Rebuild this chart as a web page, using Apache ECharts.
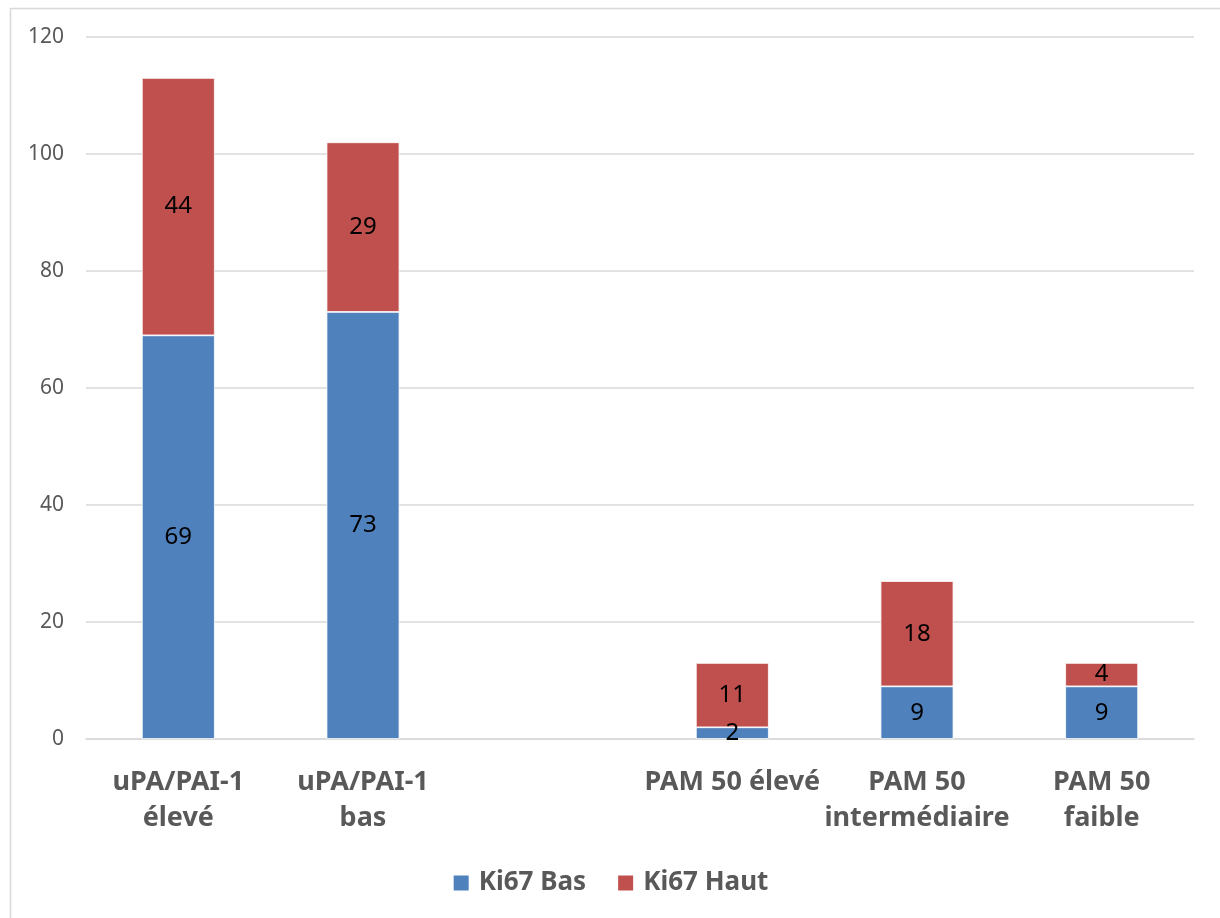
<!DOCTYPE html>
<html>
<head>
<meta charset="utf-8">
<style>
  html, body { margin: 0; padding: 0; background: #fff; }
  #chart { width: 1220px; height: 918px; }
</style>
<script src="https://cdn.jsdelivr.net/npm/echarts@6/dist/echarts.min.js"></script>
</head>
<body>
<div id="chart"></div>
<script>
// Groups (the empty slot separates the uPA/PAI-1 groups from the PAM 50 groups)
const categories = ['uPA/PAI-1\nélevé', 'uPA/PAI-1\nbas', '', 'PAM 50 élevé', 'PAM 50\nintermédiaire', 'PAM 50\nfaible'];
const ki67Bas  = [69, 73, null, 2, 9, 9];
const ki67Haut = [44, 29, null, 11, 18, 4];
const yTicks = { min: 0, max: 120, interval: 20 };

const chart = echarts.init(document.getElementById('chart'));
const font = 'Noto Sans';

const labelStyle = {
  show: true,
  position: 'inside',
  color: '#000',
  fontFamily: font,
  fontSize: 24,
  formatter: p => (p.value == null ? '' : p.value)
};

chart.setOption({
  animation: false,
  textStyle: { fontFamily: font },
  graphic: [{
    type: 'rect',
    shape: { x: 10.5, y: 8.5, width: 1240, height: 940 },
    style: { fill: 'none', stroke: '#D9D9D9', lineWidth: 1.5 },
    silent: true
  }],
  grid: { left: 86, right: 26, top: 37, bottom: 179, containLabel: false },
  legend: {
    top: 865,
    left: 'center',
    itemWidth: 17,
    itemHeight: 17,
    itemGap: 30,
    icon: 'rect',
    textStyle: { color: '#595959', fontSize: 26, fontWeight: 'bold', fontFamily: font, padding: [0, 0, 0, 4] },
    data: ['Ki67 Bas', 'Ki67 Haut']
  },
  xAxis: {
    type: 'category',
    data: categories,
    axisLine: { lineStyle: { color: '#D9D9D9', width: 1.5 } },
    axisTick: { show: false },
    axisLabel: {
      interval: 0,
      color: '#595959',
      fontSize: 27,
      fontWeight: 'bold',
      fontFamily: font,
      lineHeight: 36,
      margin: 25
    }
  },
  yAxis: {
    type: 'value',
    min: yTicks.min,
    max: yTicks.max,
    interval: yTicks.interval,
    axisLine: { show: false },
    axisTick: { show: false },
    splitLine: { lineStyle: { color: '#D9D9D9', width: 1.5 } },
    axisLabel: { color: '#595959', fontSize: 21, fontFamily: font, margin: 22 }
  },
  series: [
    {
      name: 'Ki67 Bas',
      type: 'bar',
      stack: 'ki67',
      barWidth: '39.5%',
      data: ki67Bas,
      itemStyle: { color: '#4F81BD', borderColor: '#FFFFFF', borderWidth: 0.8 },
      label: labelStyle
    },
    {
      name: 'Ki67 Haut',
      type: 'bar',
      stack: 'ki67',
      barWidth: '39.5%',
      data: ki67Haut,
      itemStyle: { color: '#C0504D', borderColor: '#FFFFFF', borderWidth: 0.8 },
      label: labelStyle
    }
  ]
});
</script>
</body>
</html>
